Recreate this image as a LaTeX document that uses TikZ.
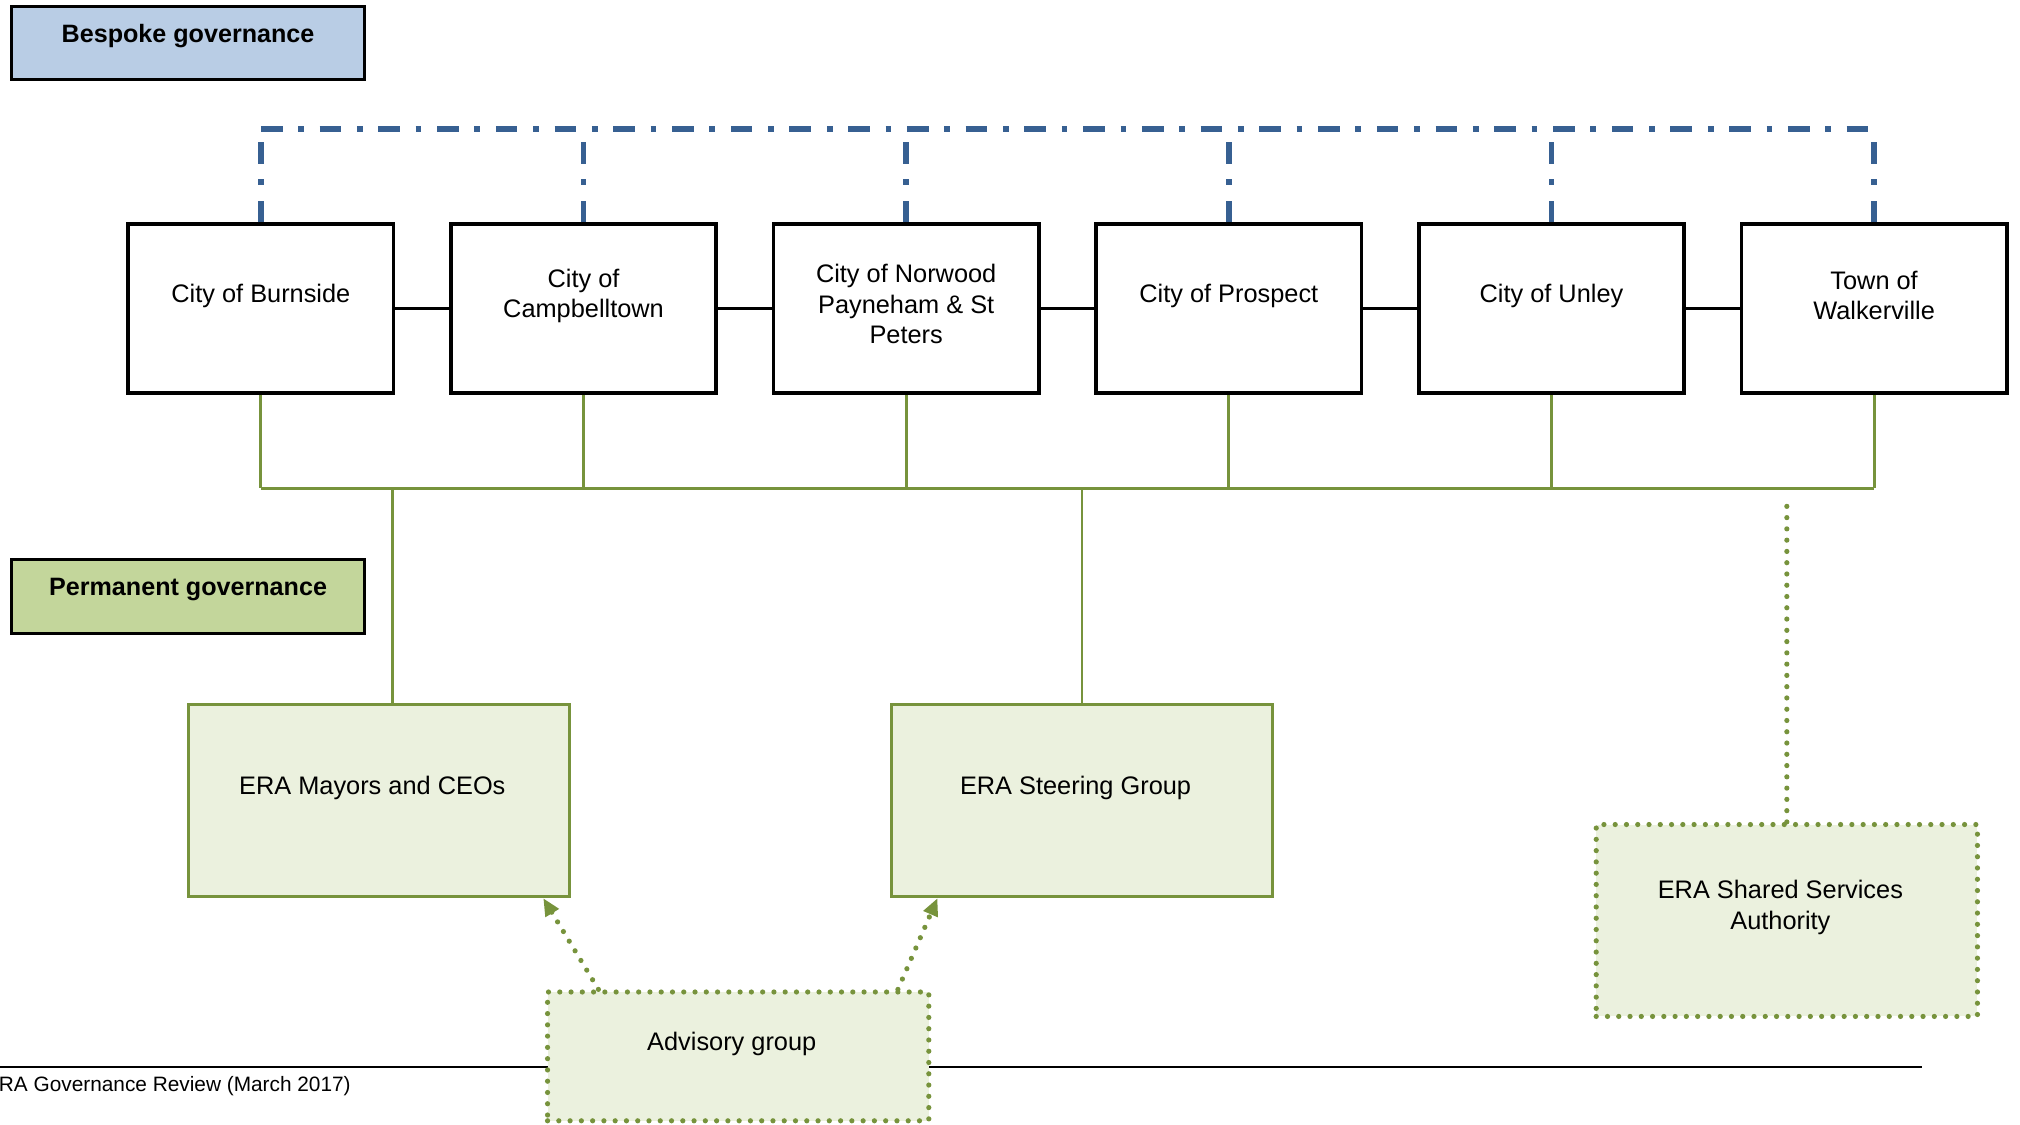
\documentclass[tikz,border=0pt]{standalone}
\usepackage{fontspec}
\setmainfont{Liberation Sans}
\usetikzlibrary{arrows.meta,positioning}

\definecolor{bespokeblue}{HTML}{B9CDE5}
\definecolor{permgreen}{HTML}{C3D69B}
\definecolor{palegreen}{HTML}{EBF1DE}
\definecolor{linegreen}{HTML}{77933C}
\definecolor{lineblue}{HTML}{376092}

\begin{document}
\begin{tikzpicture}[x=0.02cm, y=-0.02cm, node distance=5.01cm, font=\fontsize{11.2}{13.4}\selectfont]
\tikzstyle{header} = [rectangle, draw, line width=1.4pt, minimum width=5.48cm, inner ysep=0pt, text height=0.555cm, text depth=0.585cm, font=\fontsize{11.1}{13.4}\selectfont\bfseries]
\tikzstyle{council} = [rectangle, draw, line width=1.7pt, minimum width=4.12cm, minimum height=2.62cm]
\tikzstyle{ctext} = [align=center, yshift=0.2cm]
\tikzstyle{era} = [rectangle, draw=linegreen, fill=palegreen, line width=1.4pt, minimum width=5.92cm, minimum height=2.98cm]
\tikzstyle{eratext} = [align=center, yshift=0.2cm, xshift=-0.1cm]
\tikzstyle{loose} = [dash pattern=on 0pt off 0.175cm, line cap=round, line width=2.3pt]
\tikzstyle{bespoke} = [lineblue, line width=2.4pt, dash pattern=on 0.336cm off 0.244cm on 0.088cm off 0.244cm]
\tikzstyle{permanent} = [linegreen, line width=1.3pt]
\tikzstyle{link} = [line width=1.5pt]
\tikzstyle{advice} = [linegreen, loose, -{Triangle[length=0.27cm, width=0.23cm]}]

\useasboundingbox (0,0) rectangle (1568,873);

% footer rule first, the advisory box is drawn over it
\coordinate (footl) at (0,828);
\coordinate (footr) at (1492,828);
\draw [line width=0.9pt] (footl) -- (footr);
\node (footer) [anchor=base west, inner sep=0pt, font=\fontsize{9.2}{11}\selectfont] at (-12,847.5) {ERA Governance Review (March 2017)};

\node (bespokehd) [header, fill=bespokeblue] at (146,33.5) {Bespoke governance};
\node (permhd) [header, fill=permgreen] at (146,463) {Permanent governance};

\node (burnside) [council, label={[ctext]center:City of Burnside}] at (202.5,239.5) {};
\node (campbell) [council, right of=burnside, label={[ctext]center:City of\\Campbelltown}] {};
\node (norwood) [council, right of=campbell, label={[ctext, yshift=-0.13cm]center:City of Norwood\\Payneham \& St\\Peters}] {};
\node (prospect) [council, right of=norwood, label={[ctext]center:City of Prospect}] {};
\node (unley) [council, right of=prospect, label={[ctext]center:City of Unley}] {};
\node (walker) [council, right of=unley, label={[ctext]center:Town of\\Walkerville}] {};

\node (mayors) [era, label={[eratext]center:ERA Mayors and CEOs}] at (294,621.5) {};
\node (steering) [era, right of=mayors, xshift=5.91cm, label={[eratext]center:ERA Steering Group}] {};
\node (shared) [era, loose, label={[eratext]center:ERA Shared Services\\Authority}] at (1387,714.5) {};
\node (advisory) [era, loose, minimum height=2cm, label={[eratext]center:Advisory group}] at (573,820) {};

\coordinate (topline) at (0,100);
\coordinate (bus) at (0,379);
\foreach \c in {burnside,campbell,norwood,prospect,unley,walker} {
  \draw [bespoke] (\c.north) -- (\c.north |- topline);
  \draw [permanent] (\c.south) -- (\c.south |- bus);
}
\draw [bespoke] (burnside.north |- topline) -- (walker.north |- topline);
\draw [permanent] (burnside.south |- bus) -- (walker.south |- bus);
\foreach \a/\b in {burnside/campbell,campbell/norwood,norwood/prospect,prospect/unley,unley/walker}
  \draw [link] (\a) -- (\b);

\draw [permanent] ([xshift=0.22cm]mayors.north) -- ([xshift=0.22cm]mayors.north |- bus);
\draw [permanent] (steering.north) -- (steering.north |- bus);
\draw [linegreen, loose] (shared.north) -- ([yshift=-0.14cm]shared.north |- bus);

\draw [advice] ([xshift=0.83cm]advisory.north west) -- ([xshift=-0.43cm]mayors.south east);
\draw [advice] ([xshift=-0.52cm]advisory.north east) -- ([xshift=0.74cm]steering.south west);
\end{tikzpicture}
\end{document}
